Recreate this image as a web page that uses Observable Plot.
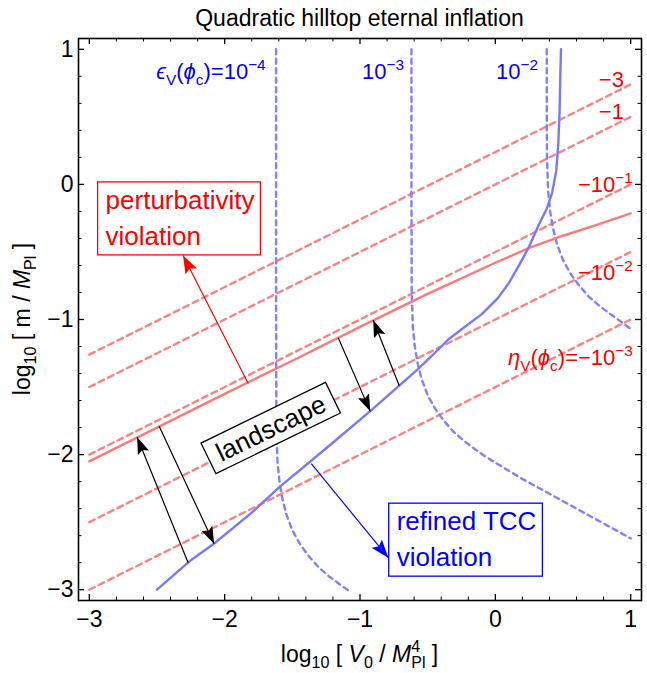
<!DOCTYPE html>
<html><head><meta charset="utf-8">
<script src="https://cdn.jsdelivr.net/npm/d3@7"></script>
<script src="https://cdn.jsdelivr.net/npm/@observablehq/plot@0.6"></script>
<style>body{margin:0;background:#fff;} svg{display:block;}</style>
</head><body><div id="chart"></div>
<script>
// ---------- data ----------
const xMajor = [-3, -2, -1, 0, 1];
const yMajor = [-3, -2, -1, 0, 1];
const xMinor = [-2.8,-2.6,-2.4,-2.2,-1.8,-1.6,-1.4,-1.2,-0.8,-0.6,-0.4,-0.2,0.2,0.4,0.6,0.8];
const yMinor = [-2.8,-2.6,-2.4,-2.2,-1.8,-1.6,-1.4,-1.2,-0.8,-0.6,-0.4,-0.2,0.2,0.4,0.6,0.8];

// eta_V(phi_c) contours (straight dashed red lines), endpoints at x = -3 and x = 1
const etaNames = ["-3", "-1", "-1e-1", "-1e-2", "-1e-3"];
const etaStartX = [-3, -3, -3, -3, -3];
const etaStartY = [-1.26, -1.50, -2.00, -2.50, -3.00];
const etaEndX = [1, 1, 1, 1, 1];
const etaEndY = [0.74, 0.50, 0.00, -0.50, -1.00];

// perturbativity violation boundary (solid red)
const pertX = [-3.0, -2.5, -2.0, -1.5, -1.0, -0.5, 0.0, 0.25, 0.5, 0.75, 1.0];
const pertY = [-2.05, -1.80, -1.55, -1.305, -1.055, -0.81, -0.58, -0.47, -0.38, -0.30, -0.215];

// refined TCC violation boundary (solid blue)
const tccX = [-2.50, -2.26, -2.08, -1.80, -1.60, -1.21, -0.92, -0.71, -0.57, -0.47, -0.35, -0.22, -0.10, 0.02, 0.10, 0.18, 0.25, 0.32, 0.38, 0.42, 0.45, 0.465, 0.475, 0.48, 0.485];
const tccY = [-3.00, -2.79, -2.66, -2.43, -2.245, -1.92, -1.675, -1.49, -1.365, -1.27, -1.15, -1.05, -0.96, -0.84, -0.73, -0.59, -0.46, -0.30, -0.18, -0.06, 0.10, 0.30, 0.55, 0.80, 1.00];

// epsilon_V(phi_c) contours (dashed blue)
const eps4X = [-1.62, -1.62, -1.618, -1.61, -1.595, -1.575, -1.545, -1.50, -1.445, -1.38, -1.31, -1.23, -1.15, -1.08];
const eps4Y = [1.00, -1.00, -1.80, -2.05, -2.20, -2.32, -2.44, -2.56, -2.66, -2.75, -2.83, -2.90, -2.96, -3.01];
const eps3X = [-0.62, -0.62, -0.618, -0.61, -0.595, -0.575, -0.545, -0.50, -0.445, -0.38, -0.31, -0.23, -0.15, -0.08, 0.05, 0.20, 0.40, 0.60, 0.80, 1.00];
const eps3Y = [1.00, 0.00, -0.80, -1.05, -1.20, -1.32, -1.44, -1.56, -1.66, -1.75, -1.83, -1.90, -1.96, -2.01, -2.09, -2.18, -2.29, -2.40, -2.51, -2.62];
const eps2X = [0.38, 0.38, 0.382, 0.39, 0.405, 0.425, 0.455, 0.50, 0.555, 0.62, 0.69, 0.77, 0.85, 0.92, 1.00];
const eps2Y = [1.00, 0.50, 0.20, -0.05, -0.20, -0.32, -0.44, -0.56, -0.66, -0.75, -0.83, -0.90, -0.96, -1.01, -1.07];

// arrows: [x1, y1, x2, y2]
const landscapeArrowX1 = [-2.27, -2.484, -1.161, -0.71];
const landscapeArrowY1 = [-2.80, -1.79, -1.135, -1.49];
const landscapeArrowX2 = [-2.647, -2.078, -0.924, -0.902];
const landscapeArrowY2 = [-1.87, -2.66, -1.68, -1.006];
const pertArrow = [-1.826, -1.474, -2.307, -0.526];
const tccArrow = [-1.36, -2.067, -0.791, -2.763];

// text labels
const titleText = "Quadratic hilltop eternal inflation";
const epsLabelX = [-1.69, -0.67, 0.32];
const epsLabelY = [0.778, 0.778, 0.778];
const epsLabelExp = ["−4", "−3", "−2"];
const etaLabelX = [0.954, 0.954, 1.02, 1.02, 1.02];
const etaLabelY = [0.72, 0.48, -0.06, -0.71, -1.34];
const pertBoxLines = ["perturbativity", "violation"];
const pertBoxAt = [-2.876, -0.185];
const tccBoxLines = ["refined TCC", "violation"];
const tccBoxAt = [-0.725, -2.563];
const landscapeText = "landscape";
const landscapeAt = [-1.656, -1.807];

// ---------- build ----------
const W = 647, H = 673, ML = 78, MR = 6, MT = 38, MB = 73;
const FW = W - ML - MR, FH = H - MT - MB;
const FONT = "'Liberation Sans', Arial, Helvetica, sans-serif";

const etaRows = etaNames.flatMap((n, i) => [
  {k: n, x: etaStartX[i], y: etaStartY[i]},
  {k: n, x: etaEndX[i], y: etaEndY[i]}
]);
const epsRows = [["1e-4", eps4X, eps4Y], ["1e-3", eps3X, eps3Y], ["1e-2", eps2X, eps2Y]]
  .flatMap(([k, xs, ys]) => xs.map((x, i) => ({k, x, y: ys[i]})));
const pertRows = pertX.map((x, i) => ({x, y: pertY[i]}));
const tccRows = tccX.map((x, i) => ({x, y: tccY[i]}));
const landRows = landscapeArrowX1.map((x1, i) => ({x1, y1: landscapeArrowY1[i], x2: landscapeArrowX2[i], y2: landscapeArrowY2[i]}));
const arrowRow = a => [{x1: a[0], y1: a[1], x2: a[2], y2: a[3]}];
const fmt = d => (d < 0 ? "−" : "") + Math.abs(d);

const plot = Plot.plot({
  width: W, height: H,
  marginLeft: ML, marginRight: MR, marginTop: MT, marginBottom: MB,
  x: {domain: [-3.08, 1.08]},
  y: {domain: [-3.08, 1.08]},
  style: {fontFamily: FONT, background: "#fff", color: "#000"},
  marks: [
    Plot.line(etaRows, {x: "x", y: "y", z: "k", stroke: "#ff8080", strokeWidth: 2.4, strokeDasharray: "6,4.5", clip: true}),
    Plot.line(epsRows, {x: "x", y: "y", z: "k", stroke: "#8080ff", strokeWidth: 2.4, strokeDasharray: "5,4.5", clip: true}),
    Plot.line(pertRows, {x: "x", y: "y", stroke: "#ff7878", strokeWidth: 2.4, clip: true}),
    Plot.line(tccRows, {x: "x", y: "y", stroke: "#7878ff", strokeWidth: 2.4, clip: true}),
    Plot.link(landRows, {x1: "x1", y1: "y1", x2: "x2", y2: "y2", stroke: "#000", strokeWidth: 1.2}),
    Plot.link(arrowRow(pertArrow), {x1: "x1", y1: "y1", x2: "x2", y2: "y2", stroke: "#ff0000", strokeWidth: 1.2}),
    Plot.link(arrowRow(tccArrow), {x1: "x1", y1: "y1", x2: "x2", y2: "y2", stroke: "#0000ff", strokeWidth: 1.2}),
    // inward ticks
    Plot.tickX(xMajor, {x: d => d, insetTop: FH - 6, stroke: "#000", strokeWidth: 1.3}),
    Plot.tickX(xMajor, {x: d => d, insetBottom: FH - 6, stroke: "#000", strokeWidth: 1.3}),
    Plot.tickX(xMinor, {x: d => d, insetTop: FH - 3.5, stroke: "#000", strokeWidth: 1}),
    Plot.tickX(xMinor, {x: d => d, insetBottom: FH - 3.5, stroke: "#000", strokeWidth: 1}),
    Plot.tickY(yMajor, {y: d => d, insetRight: FW - 6, stroke: "#000", strokeWidth: 1.3}),
    Plot.tickY(yMajor, {y: d => d, insetLeft: FW - 6, stroke: "#000", strokeWidth: 1.3}),
    Plot.tickY(yMinor, {y: d => d, insetRight: FW - 3.5, stroke: "#000", strokeWidth: 1}),
    Plot.tickY(yMinor, {y: d => d, insetLeft: FW - 3.5, stroke: "#000", strokeWidth: 1}),
    Plot.frame({stroke: "#000", strokeWidth: 1.6}),
    Plot.axisX(xMajor, {tickSize: 0, tickPadding: 10, tickFormat: fmt, fontSize: 23, label: null}),
    Plot.axisY(yMajor, {tickSize: 0, tickPadding: 5, tickFormat: fmt, fontSize: 23, label: null})
  ]
});
document.getElementById("chart").appendChild(plot);

// ---------- annotations ----------
const svg = d3.select(plot);
const sx = plot.scale("x"), sy = plot.scale("y");
const X = v => sx.apply(v), Y = v => sy.apply(v);

const defs = svg.append("defs");
function head(id, color, L, Wd) {
  defs.append("marker").attr("id", id).attr("markerUnits", "userSpaceOnUse")
    .attr("viewBox", `${-L} ${-Wd / 2} ${L} ${Wd}`).attr("refX", 0).attr("refY", 0)
    .attr("markerWidth", L).attr("markerHeight", Wd).attr("orient", "auto")
    .append("path").attr("d", `M0,0 L${-L},${-Wd / 2} L${-L * 0.82},0 L${-L},${Wd / 2} Z`).attr("fill", color);
}
head("hk", "#000", 17, 12);
head("hr", "#ff0000", 18, 13);
head("hb", "#0000ff", 18, 13);
const linkGroups = svg.selectAll('g[aria-label="link"]').nodes();
["hk", "hr", "hb"].forEach((id, i) => {
  if (linkGroups[i]) d3.select(linkGroups[i]).selectAll("path").attr("marker-end", `url(#${id})`);
});

const layer = svg.append("g").attr("font-family", FONT).attr("text-anchor", "start");

function rich(parent, parts, size) {
  const t = parent.append("text").attr("font-size", size).attr("text-anchor", "start");
  let cur = 0;
  for (const p of parts) {
    const [s, type] = p;
    let target = 0, fs = size;
    if (type === "sub") { target = 0.28 * size; fs = 0.7 * size; }
    else if (type === "sup") { target = -0.42 * size; fs = 0.7 * size; }
    const ts = t.append("tspan").text(s).attr("font-size", fs).attr("dy", target - cur);
    if (type === "i") ts.attr("font-style", "italic");
    cur = target;
  }
  return t;
}

// title
layer.append("text").attr("x", ML + FW / 2).attr("y", 26).attr("text-anchor", "middle")
  .attr("font-size", 23).attr("fill", "#000").text(titleText);

// x axis label
{
  const t = rich(layer, [["log", "r"], ["10", "sub"], [" [ ", "r"], ["V", "i"], ["0", "sub"], [" / ", "r"], ["M", "i"]], 23);
  const pl = t.append("tspan").text("Pl").attr("font-size", 16).attr("dy", 0.28 * 23);
  const plLen = pl.node().getComputedTextLength();
  const four = t.append("tspan").text("4").attr("font-size", 16).attr("dy", -0.72 * 23).attr("dx", -plLen);
  const fourLen = four.node().getComputedTextLength();
  t.append("tspan").text(" ]").attr("dy", 0.44 * 23).attr("dx", plLen - fourLen);
  t.attr("fill", "#000");
  const w = t.node().getBBox().width;
  t.attr("x", ML + FW / 2 - w / 2).attr("y", 662);
}
// y axis label
{
  const g = layer.append("g").attr("transform", `translate(30,${MT + FH / 2}) rotate(-90)`);
  const t = rich(g, [["log", "r"], ["10", "sub"], [" [ m / ", "r"], ["M", "i"], ["Pl", "sub"], [" ]", "r"]], 23);
  t.attr("fill", "#000");
  const w = t.node().getBBox().width;
  t.attr("x", -w / 2).attr("y", 0);
}

// epsilon labels
epsLabelX.forEach((x, i) => {
  const parts = i === 0
    ? [["ϵ", "i"], ["V", "sub"], ["(", "r"], ["ϕ", "i"], ["c", "sub"], [")=10", "r"], [epsLabelExp[i], "sup"]]
    : [["10", "r"], [epsLabelExp[i], "sup"]];
  const t = rich(layer, parts, 22).attr("fill", "#0000ff");
  const w = t.node().getBBox().width;
  t.attr("x", X(x) - w).attr("y", Y(epsLabelY[i]));
});

// eta labels
const etaParts = [
  [["−3", "r"]],
  [["−1", "r"]],
  [["−10", "r"], ["−1", "sup"]],
  [["−10", "r"], ["−2", "sup"]],
  [["η", "i"], ["V", "sub"], ["(", "r"], ["ϕ", "i"], ["c", "sub"], [")=−10", "r"], ["−3", "sup"]]
];
etaParts.forEach((parts, i) => {
  const t = rich(layer, parts, 22).attr("fill", "#ff0000");
  const w = t.node().getBBox().width;
  t.attr("x", X(etaLabelX[i]) - w).attr("y", Y(etaLabelY[i]));
});

// boxed labels
function boxLabel(lines, at, color) {
  const g = layer.append("g");
  const rect = g.append("rect").attr("fill", "#fff").attr("stroke", color).attr("stroke-width", 1.3);
  const x0 = X(at[0]), y0 = Y(at[1]);
  lines.forEach((s, i) => {
    g.append("text").attr("x", x0).attr("y", y0 + i * 36).attr("font-size", 26).attr("fill", color).attr("text-anchor", "start").text(s);
  });
  const texts = g.selectAll("text").nodes().map(n => n.getBBox());
  const minX = d3.min(texts, b => b.x), maxX = d3.max(texts, b => b.x + b.width);
  const minY = d3.min(texts, b => b.y), maxY = d3.max(texts, b => b.y + b.height);
  rect.attr("x", minX - 8).attr("y", minY - 3).attr("width", maxX - minX + 14).attr("height", maxY - minY + 7);
}
boxLabel(pertBoxLines, pertBoxAt, "#ff0000");
boxLabel(tccBoxLines, tccBoxAt, "#0000ff");

// landscape (rotated)
{
  const g = layer.append("g").attr("transform", `translate(${X(landscapeAt[0])},${Y(landscapeAt[1])}) rotate(-26)`);
  const rect = g.append("rect").attr("fill", "#fff").attr("stroke", "#000").attr("stroke-width", 1.3);
  const t = g.append("text").attr("text-anchor", "middle").attr("y", 9).attr("font-size", 26).attr("fill", "#000").text(landscapeText);
  const b = t.node().getBBox();
  rect.attr("x", b.x - 10).attr("y", -17).attr("width", b.width + 20).attr("height", 34);
}
</script></body></html>
